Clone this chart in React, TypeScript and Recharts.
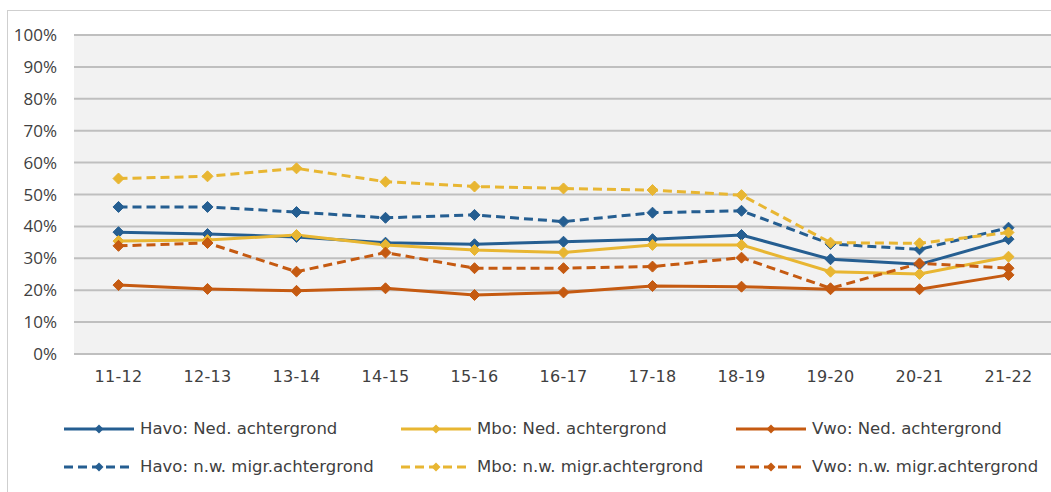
import { LineChart, Line, XAxis, YAxis, CartesianGrid } from 'recharts';

const years = ['11-12', '12-13', '13-14', '14-15', '15-16', '16-17', '17-18', '18-19', '19-20', '20-21', '21-22'];

const havoNed = [38.2, 37.6, 36.7, 34.9, 34.4, 35.2, 36.0, 37.3, 29.7, 28.1, 36.0];
const mboNed = [35.4, 35.7, 37.3, 34.2, 32.6, 31.8, 34.2, 34.2, 25.8, 25.1, 30.5];
const vwoNed = [21.6, 20.4, 19.8, 20.6, 18.5, 19.3, 21.3, 21.1, 20.3, 20.3, 24.8];
const havoMigr = [46.1, 46.1, 44.5, 42.7, 43.6, 41.5, 44.3, 44.9, 34.5, 32.8, 39.6];
const mboMigr = [55.0, 55.7, 58.2, 54.0, 52.5, 51.9, 51.4, 49.8, 34.9, 34.7, 38.1];
const vwoMigr = [33.9, 34.8, 25.8, 31.8, 26.9, 26.9, 27.4, 30.2, 20.6, 28.4, 26.9];

const yTicks = [0, 10, 20, 30, 40, 50, 60, 70, 80, 90, 100];

const BLUE = '#255e91';
const YELLOW = '#e8b632';
const ORANGE = '#c55a11';

const series = [
  { key: 'havoNed', name: 'Havo: Ned. achtergrond', color: BLUE, dashed: false },
  { key: 'mboNed', name: 'Mbo: Ned. achtergrond', color: YELLOW, dashed: false },
  { key: 'vwoNed', name: 'Vwo: Ned. achtergrond', color: ORANGE, dashed: false },
  { key: 'havoMigr', name: 'Havo: n.w. migr.achtergrond', color: BLUE, dashed: true },
  { key: 'mboMigr', name: 'Mbo: n.w. migr.achtergrond', color: YELLOW, dashed: true },
  { key: 'vwoMigr', name: 'Vwo: n.w. migr.achtergrond', color: ORANGE, dashed: true },
];

const data = years.map((y, i) => ({
  year: y,
  havoNed: havoNed[i],
  mboNed: mboNed[i],
  vwoNed: vwoNed[i],
  havoMigr: havoMigr[i],
  mboMigr: mboMigr[i],
  vwoMigr: vwoMigr[i],
}));

const diamond = (color: string, r: number) => (props: any) => {
  const { cx, cy, index } = props;
  if (cx == null || cy == null) return <g key={index} />;
  return (
    <polygon
      key={index}
      points={`${cx},${cy - r} ${cx + r},${cy} ${cx},${cy + r} ${cx - r},${cy}`}
      fill={color}
      stroke={color}
      strokeWidth={1}
    />
  );
};

const legendCols = [63, 400, 735];
const legendRows = [429, 467];

function LegendIcon({ color, dashed }: { color: string; dashed: boolean }) {
  return (
    <svg width={72} height={12} style={{ position: 'absolute', left: 0, top: -6 }}>
      <line x1={1} y1={6} x2={71} y2={6} stroke={color} strokeWidth={3} strokeDasharray={dashed ? '9 5' : undefined} />
      <polygon points="36,1.5 40.5,6 36,10.5 31.5,6" fill={color} />
    </svg>
  );
}

export default function App() {
  return (
    <div style={{ position: 'fixed', left: 0, top: 0, width: 1051, height: 492, overflow: 'hidden', background: '#fff' }}>
      <div
        style={{
          position: 'absolute',
          left: 7,
          top: 10,
          width: 1100,
          height: 520,
          border: '1.5px solid #cfcfcf',
        }}
      />
      <div style={{ position: 'absolute', left: 8, top: 11 }}>
        <LineChart width={1060} height={480} data={data} margin={{ top: 24, right: 15, bottom: 107, left: 0 }}>
          <CartesianGrid vertical={false} fill="#f2f2f2" stroke="#bfbfbf" strokeWidth={2} />
          <XAxis
            dataKey="year"
            axisLine={false}
            tickLine={false}
            tickSize={0}
            tickMargin={17}
            height={30}
            padding={{ left: 44.5, right: 44.5 }}
            tick={{ fill: '#404040', fontSize: 16, fontFamily: 'DejaVu Sans', letterSpacing: 0.3 }}
          />
          <YAxis
            domain={[0, 100]}
            ticks={yTicks}
            width={66}
            axisLine={false}
            tickLine={false}
            tickSize={0}
            tickMargin={17}
            tickFormatter={(v: number) => `${v}%`}
            tick={{ fill: '#404040', fontSize: 17, fontFamily: 'Open Sans' }}
          />
          {series.map((s) => (
            <Line
              key={s.key}
              type="linear"
              dataKey={s.key}
              name={s.name}
              stroke={s.color}
              strokeWidth={3}
              strokeDasharray={s.dashed ? '9 5' : undefined}
              dot={diamond(s.color, 5.5)}
              activeDot={false}
              isAnimationActive={false}
            />
          ))}
        </LineChart>
      </div>
      {series.map((s, i) => {
        const col = i % 3;
        const row = Math.floor(i / 3);
        return (
          <div
            key={s.key}
            style={{ position: 'absolute', left: legendCols[col], top: legendRows[row], height: 0 }}
          >
            <LegendIcon color={s.color} dashed={s.dashed} />
            <span
              style={{
                position: 'absolute',
                left: 77,
                top: -11,
                whiteSpace: 'nowrap',
                fontFamily: 'DejaVu Sans',
                fontSize: 16.5,
                lineHeight: '22px',
                color: '#404040',
              }}
            >
              {s.name}
            </span>
          </div>
        );
      })}
    </div>
  );
}
